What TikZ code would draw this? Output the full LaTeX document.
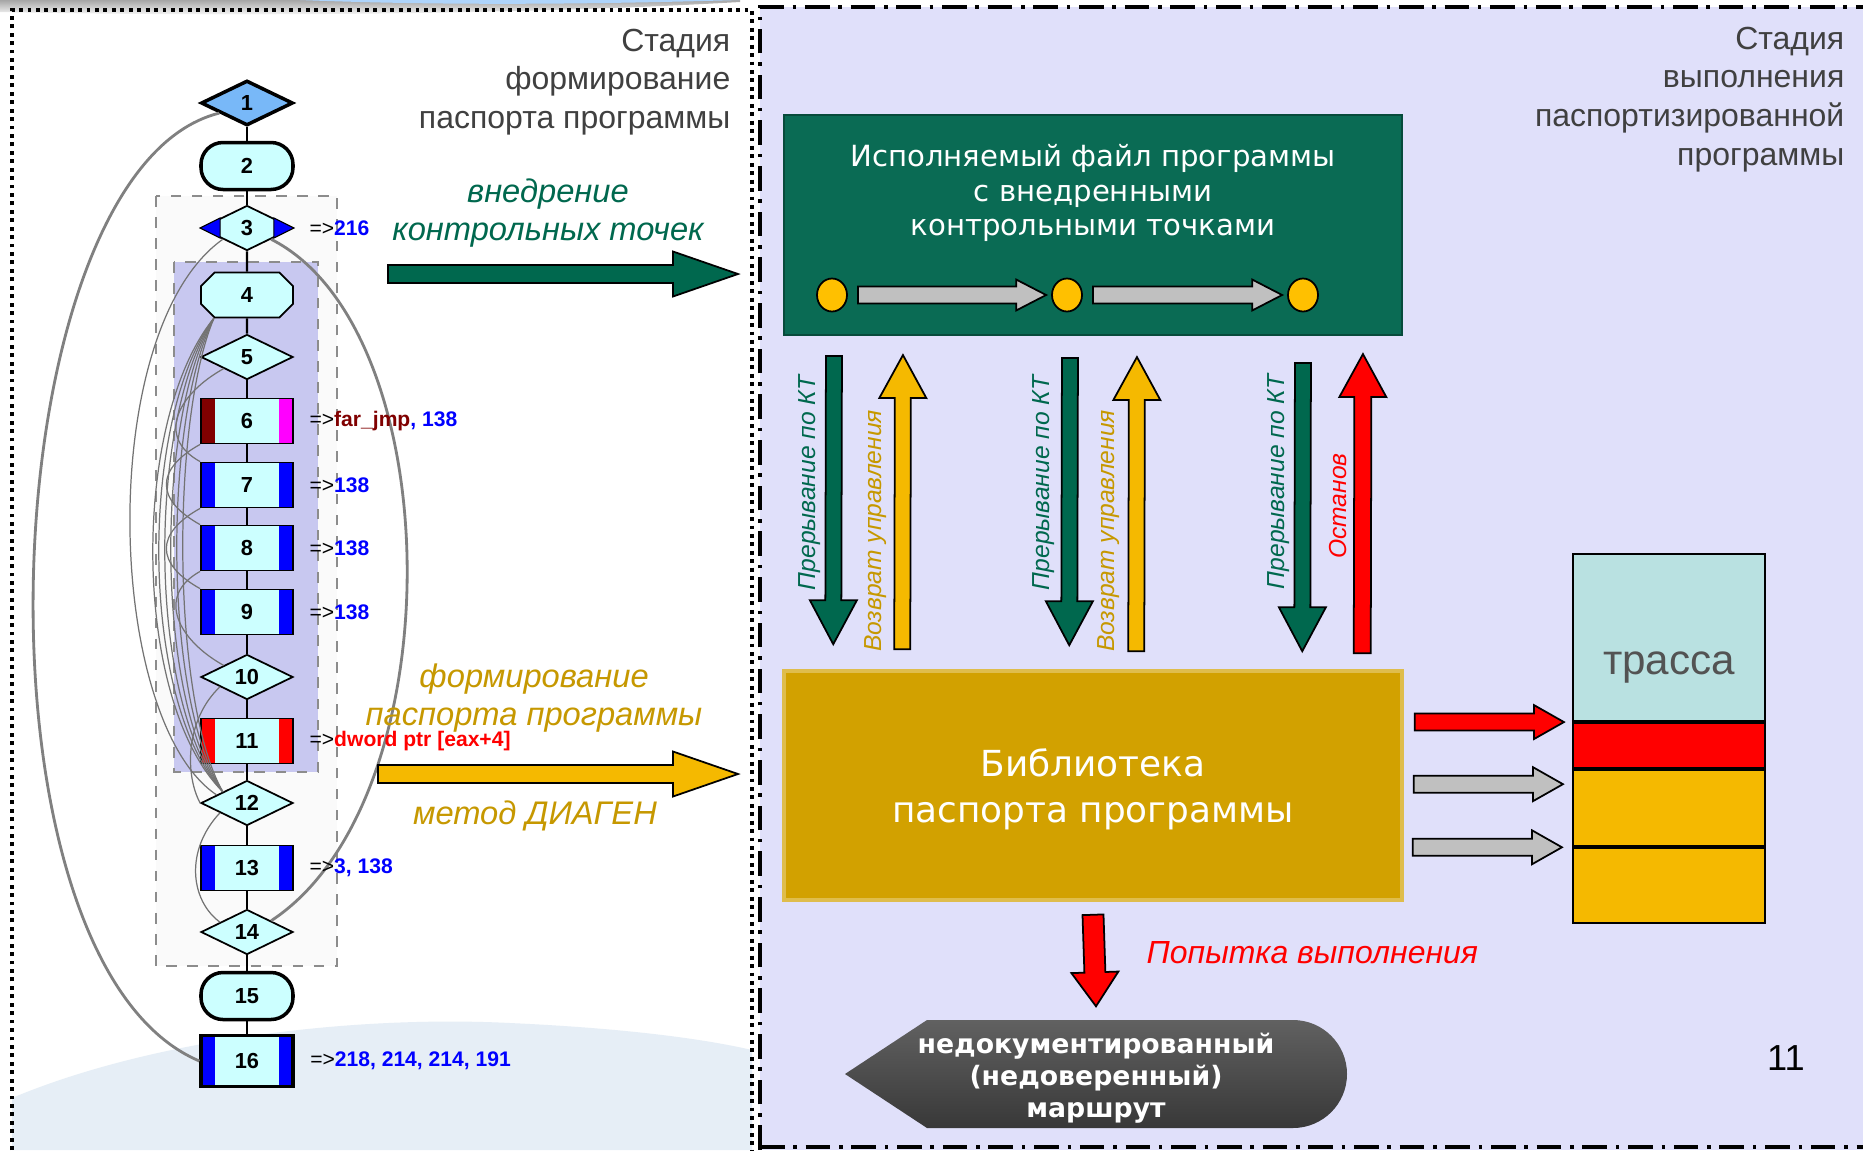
\documentclass[tikz,border=0pt]{standalone}
\usepackage{fontspec}
\setmainfont{Liberation Sans}
\newfontfamily\boxfont{DejaVu Sans}
\usetikzlibrary{positioning,calc,shapes.geometric,shapes.misc}

\definecolor{panelblue}{RGB}{224,224,250}
\definecolor{exegreen}{RGB}{10,107,84}
\definecolor{kgreen}{RGB}{0,104,78}
\definecolor{kgold}{RGB}{245,185,0}
\definecolor{kgoldtxt}{RGB}{198,152,0}
\definecolor{libgold}{RGB}{210,161,0}
\definecolor{ktyellow}{RGB}{255,192,0}
\definecolor{arrgrey}{RGB}{192,192,192}
\definecolor{trcyan}{RGB}{185,225,225}
\definecolor{trorange}{RGB}{245,185,0}
\definecolor{fccyan}{RGB}{204,255,255}
\definecolor{fcblue}{RGB}{120,184,248}
\definecolor{loopfill}{RGB}{200,200,240}
\definecolor{titlegrey}{RGB}{64,64,64}
\definecolor{barred}{RGB}{128,0,0}
\definecolor{barpink}{RGB}{255,0,255}
\definecolor{wave}{RGB}{230,238,246}

% block arrow: style, half shaft, half head, head length, from, to
\newcommand{\fatarrow}[6]{%
  \draw[#1] let \p1=(#5), \p2=(#6),
    \n1={veclen(\x2-\x1,\y2-\y1)}, \n2={(\x2-\x1)/\n1}, \n3={(\y2-\y1)/\n1} in
    ({\x1-(\n3)*#2},{\y1+(\n2)*#2})
    -- ({\x2-(\n2)*#4-(\n3)*#2},{\y2-(\n3)*#4+(\n2)*#2})
    -- ({\x2-(\n2)*#4-(\n3)*#3},{\y2-(\n3)*#4+(\n2)*#3})
    -- (\p2)
    -- ({\x2-(\n2)*#4+(\n3)*#3},{\y2-(\n3)*#4-(\n2)*#3})
    -- ({\x2-(\n2)*#4+(\n3)*#2},{\y2-(\n3)*#4-(\n2)*#2})
    -- ({\x1+(\n3)*#2},{\y1-(\n2)*#2}) -- cycle;}

\begin{document}
\begin{tikzpicture}[x=0.1mm,y=-0.1mm]
  \tikzstyle{stagetitle}=[font=\fontsize{9.1}{11}\selectfont, text=titlegrey, align=right, inner sep=0pt]
  \tikzstyle{exebox}=[rectangle, fill=exegreen, draw=exegreen!70!black, line width=0.6pt, minimum width=61.8mm, minimum height=22mm, inner sep=0pt]
  \tikzstyle{libbox}=[rectangle, fill=libgold, draw=libgold!70!white, line width=1pt, text=white, align=center, minimum width=61.8mm, minimum height=22.9mm, inner sep=0pt]
  \tikzstyle{boxtext}=[text=white, align=center, inner sep=0pt]
  \tikzstyle{undoctext}=[text=white, align=center, inner sep=0pt, minimum height=10.8mm, font=\boxfont\bfseries\fontsize{7.6}{9.1}\selectfont]
  \tikzstyle{ktpoint}=[ellipse, fill=ktyellow, draw=black, line width=0.5pt, minimum width=3mm, minimum height=3.3mm, inner sep=0pt]
  \tikzstyle{greenarrow}=[fill=kgreen, draw=black, line width=0.5pt]
  \tikzstyle{goldarrow}=[fill=kgold, draw=black, line width=0.5pt]
  \tikzstyle{redarrow}=[fill=red, draw=black, line width=0.5pt]
  \tikzstyle{greyarrow}=[fill=arrgrey, draw=black, line width=0.5pt]
  \tikzstyle{vlabel}=[rotate=90, font=\fontsize{7}{8}\selectfont\itshape, inner sep=0pt]
  \tikzstyle{arrlabel}=[font=\fontsize{9.3}{10.6}\selectfont\itshape, align=center, inner sep=0pt]
  \tikzstyle{trcell}=[rectangle, draw=black, line width=0.6pt, minimum width=19.2mm, inner sep=0pt]
  \tikzstyle{fc}=[draw=black, fill=fccyan, font=\fontsize{6.2}{7}\selectfont\bfseries, inner sep=0pt, minimum width=9.2mm, minimum height=4.5mm, line width=0.5pt]
  \tikzstyle{fcdia}=[fc, diamond, aspect=2]
  \tikzstyle{fcterm}=[fc, rounded corners=2.2mm, line width=1pt]
  \tikzstyle{fcoct}=[fc, chamfered rectangle, chamfered rectangle xsep=1.3mm]
  \tikzset{fcproc/.style 2 args={fc, path picture={
    \fill[#1] (path picture bounding box.north west) rectangle ([xshift=1.4mm]path picture bounding box.south west);
    \fill[#2] (path picture bounding box.north east) rectangle ([xshift=-1.4mm]path picture bounding box.south east);}}}
  \tikzstyle{fcline}=[draw=black, line width=0.6pt]
  \tikzstyle{loopedge}=[draw=black!55, line width=0.35pt]
  \tikzstyle{bigloop}=[draw=black!50, line width=0.8pt]
  \tikzstyle{tgtlabel}=[font=\fontsize{6}{7}\selectfont, inner sep=0pt]
  \tikzstyle{leftframe}=[draw=black, line width=1.1pt, dash pattern=on 1.1pt off 1.3pt]
  \tikzstyle{rightframe}=[draw=black, line width=1.2pt, dash pattern=on 7pt off 2.5pt on 1pt off 2.5pt]

  \useasboundingbox (0,0) rectangle (1863,1150);

  % backgrounds
  \fill[white] (0,0) rectangle (1863,1150);
  \shade[top color=black!35, bottom color=white] (0,0) -- (740,0) -- (740,2) .. controls (500,16) and (200,16) .. (0,12) -- cycle;
  \fill[fcblue!60] (300,0) .. controls (450,6) and (600,4) .. (740,0) -- cycle;
  \fill[wave] (12,1150) -- (12,1098) .. controls (150,1040) and (350,1015) .. (510,1023) .. controls (620,1028) and (700,1038) .. (752,1050) -- (752,1150) -- cycle;
  \fill[panelblue] (760,7) rectangle (1863,1150);
  \draw[leftframe] (12,1150) -- (12,10) -- (752,10) -- (752,1150);
  \draw[rightframe] (760,1150) -- (760,7) -- (1863,7);
  \draw[rightframe] (760,1147) -- (1863,1147);

  % titles
  \node[stagetitle, anchor=north east] (stage1) at (731,28) {Стадия\\формирование\\паспорта программы};
  \node[stagetitle, anchor=north east] (stage2) at (1845,26) {Стадия\\выполнения\\паспортизированной\\программы};

  % DIAGEN flow graph
  \draw[dashed, draw=black!45, fill=black!2, line width=0.7pt] (156,196) rectangle (337,966);
  \draw[dashed, draw=black!45, fill=loopfill, line width=0.6pt] (174,262) rectangle (318,772);

  \node[fcdia, fill=fcblue, line width=1pt] (n1) at (247,103) {1};
  \node[fcterm, minimum height=4.7mm] (n2) at (247,166) {2};
  \node[fcdia] (n3) at (247,228) {3};
  \node[fcoct] (n4) at (247,295) {4};
  \node[fcdia] (n5) at (247,357) {5};
  \node[fcproc={barred}{barpink}] (n6) at (247,421) {6};
  \node[fcproc={blue}{blue}] (n7) at (247,485) {7};
  \node[fcproc={blue}{blue}] (n8) at (247,548) {8};
  \node[fcproc={blue}{blue}] (n9) at (247,612) {9};
  \node[fcdia] (n10) at (247,677) {10};
  \node[fcproc={red}{red}] (n11) at (247,741) {11};
  \node[fcdia] (n12) at (247,803) {12};
  \node[fcproc={blue}{blue}] (n13) at (247,868) {13};
  \node[fcdia] (n14) at (247,932) {14};
  \node[fcterm, minimum height=4.7mm] (n15) at (247,996) {15};
  \node[fcproc={blue}{blue}, minimum height=5.1mm, line width=0.9pt] (n16) at (247,1061) {16};
  \fill[blue, draw=black, line width=0.3pt] (n3.west) -- ($(n3.west)+(20,-10)$) -- ($(n3.west)+(20,10)$) -- cycle;
  \fill[blue, draw=black, line width=0.3pt] (n3.east) -- ($(n3.east)+(-20,-10)$) -- ($(n3.east)+(-20,10)$) -- cycle;

  \foreach \a/\b in {1/2,2/3,3/4,4/5,5/6,6/7,7/8,8/9,9/10,10/11,11/12,12/13,13/14,14/15,15/16}
    \draw[fcline] (n\a) -- (n\b);

  \draw[bigloop] (n16.west) .. controls (-40,960) and (-10,170) .. (n1.200);
  \draw[bigloop] (n3.-25) .. controls (450,330) and (455,800) .. (n14.25);
  \draw[loopedge] (n3.205) .. controls (95,330) and (105,720) .. (n12.165);
  \foreach \c in {131,139,147,155,163,171}
    \draw[loopedge] (n4.215) .. controls (\c,420) and (\c,700) .. (n12.155);
  \foreach \a/\b in {5/7,6/8,7/9,8/10}
    \draw[loopedge] (n\a.south west) .. controls ($(n\a.south west)+(-45,25)$) and ($(n\b.north west)+(-45,-25)$) .. (n\b.north west);
  \draw[loopedge] (n10.200) .. controls (185,720) and (185,775) .. (n12.west);
  \draw[loopedge] (n12.200) .. controls (185,850) and (190,900) .. (n14.160);

  \node[tgtlabel, right=1.5mm of n3] (t3) {=>\textcolor{blue}{\textbf{216}}};
  \node[tgtlabel, right=1.5mm of n6] (t6) {=>\textcolor{barred}{\textbf{far\_jmp}}\textcolor{blue}{\textbf{, 138}}};
  \node[tgtlabel, right=1.5mm of n7] (t7) {=>\textcolor{blue}{\textbf{138}}};
  \node[tgtlabel, right=1.5mm of n8] (t8) {=>\textcolor{blue}{\textbf{138}}};
  \node[tgtlabel, right=1.5mm of n9] (t9) {=>\textcolor{blue}{\textbf{138}}};
  \node[tgtlabel, right=1.5mm of n11] (t11) {=>\textcolor{red}{\textbf{dword ptr [eax+4]}}};
  \node[tgtlabel, right=1.5mm of n13] (t13) {=>\textcolor{blue}{\textbf{3, 138}}};
  \node[tgtlabel, right=1.5mm of n16] (t16) {=>\textcolor{blue}{\textbf{218, 214, 214, 191}}};

  % stage arrows
  \coordinate (embedA) at (388,274);
  \coordinate (embedB) at (738,274);
  \coordinate (passA) at (378,774);
  \coordinate (passB) at (738,774);
  \fatarrow{greenarrow}{0.9mm}{2.25mm}{6.5mm}{embedA}{embedB}
  \fatarrow{goldarrow}{0.9mm}{2.25mm}{6.5mm}{passA}{passB}
  \node[arrlabel, text=kgreen] (embedlbl) at (548,213) {внедрение\\контрольных точек};
  \node[arrlabel, text=kgoldtxt] (passlbl) at (534,698) {формирование\\паспорта программы};
  \node[arrlabel, text=kgoldtxt] (diagen) at (535,816) {метод ДИАГЕН};

  % executable with check points
  \node[exebox] (exe) at (1093,225) {};
  \node[boxtext, font=\boxfont\fontsize{8.3}{9.7}\selectfont] (exetext) at (1093,193) {Исполняемый файл программы\\с внедренными\\контрольными точками};
  \node[ktpoint] (kt1) at (832,295) {};
  \node[ktpoint] (kt2) at (1067,295) {};
  \node[ktpoint] (kt3) at (1303,295) {};
  \fatarrow{greyarrow}{0.85mm}{1.55mm}{3mm}{$(kt1.east)+(10,0)$}{$(kt2.west)+(-5,0)$}
  \fatarrow{greyarrow}{0.85mm}{1.55mm}{3mm}{$(kt2.east)+(10,0)$}{$(kt3.west)+(-5,0)$}

  % passport library
  \node[libbox, font=\boxfont\fontsize{10.2}{13}\selectfont] (lib) at (1093,785.5) {\rule{0pt}{10.2pt}Библиотека\\паспорта программы};

  \fatarrow{greenarrow}{0.8mm}{2.35mm}{4.4mm}{$(exe.south west)+(51,20)$}{$(lib.north west)+(51,-25)$}
  \fatarrow{goldarrow}{0.8mm}{2.35mm}{4.3mm}{$(lib.north west)+(120,-20)$}{$(exe.south west)+(120,19)$}
  \fatarrow{greenarrow}{0.8mm}{2.35mm}{4.4mm}{$(exe.south west)+(287,22)$}{$(lib.north west)+(287,-24)$}
  \fatarrow{goldarrow}{0.8mm}{2.35mm}{4.3mm}{$(lib.north west)+(354,-18)$}{$(exe.south west)+(354,21)$}
  \fatarrow{greenarrow}{0.8mm}{2.35mm}{4.4mm}{$(exe.south west)+(520,27)$}{$(lib.north west)+(520,-18)$}
  \fatarrow{redarrow}{0.85mm}{2.35mm}{4.3mm}{$(lib.north west)+(580,-16)$}{$(exe.south west)+(580,18)$}
  \node[vlabel, text=kgreen] (v1) at (810,483) {Прерывание по КТ};
  \node[vlabel, text=kgoldtxt] (v2) at (876,531) {Возврат управления};
  \node[vlabel, text=kgreen] (v3) at (1044,483) {Прерывание по КТ};
  \node[vlabel, text=kgoldtxt] (v4) at (1109,531) {Возврат управления};
  \node[vlabel, text=kgreen] (v5) at (1279,482) {Прерывание по КТ};
  \node[vlabel, text=red] (v6) at (1338,506) {Останов};

  % trace
  \node[trcell, fill=trcyan, minimum height=16.7mm] (tr1) at (1669,637.5) {};
  \node[trcell, fill=red, minimum height=4.5mm, below=0pt of tr1] (tr2) {};
  \node[trcell, fill=trorange, minimum height=7.6mm, below=0pt of tr2] (tr3) {};
  \node[trcell, fill=trorange, minimum height=7.5mm, below=0pt of tr3] (tr4) {};
  \node[font=\fontsize{12}{14}\selectfont, text=titlegrey!90] (trtext) at ($(tr1.center)+(0,30)$) {трасса};
  \fatarrow{redarrow}{0.85mm}{1.7mm}{3mm}{$(lib.east |- tr2.north)+(11,0)$}{$(tr2.north west)+(-8,0)$}
  \fatarrow{greyarrow}{0.85mm}{1.7mm}{3mm}{$(lib.east |- tr3.north)+(10,15)$}{$(tr3.north west)+(-9,15)$}
  \fatarrow{greyarrow}{0.85mm}{1.7mm}{3mm}{$(lib.east |- tr4.north)+(9,0)$}{$(tr4.north west)+(-10,0)$}

  % undocumented route
  \coordinate (route) at (1096,1074);
  \shade[top color=black!62, bottom color=black!78] ($(route)+(-251,0)$) -- ($(route)+(-169,-54)$) -- ($(route)+(197,-54)$) arc[start angle=-90, end angle=90, radius=54] -- ($(route)+(-169,54)$) -- cycle;
  \node[undoctext] (undoc) at ($(route)+(0,4)$) {недокументированный\\(недоверенный)\\маршрут};
  \fatarrow{redarrow}{1.05mm}{2.35mm}{3.4mm}{$(lib.south)+(0,13)$}{$(undoc.north)+(0,-17)$}
  \node[arrlabel, text=red, anchor=west, font=\fontsize{9.1}{10.6}\selectfont\itshape] (attempt) at (1146,953) {Попытка выполнения};

  \node[font=\fontsize{10.3}{12}\selectfont] (pageno) at (1786,1058) {11};
\end{tikzpicture}
\end{document}
